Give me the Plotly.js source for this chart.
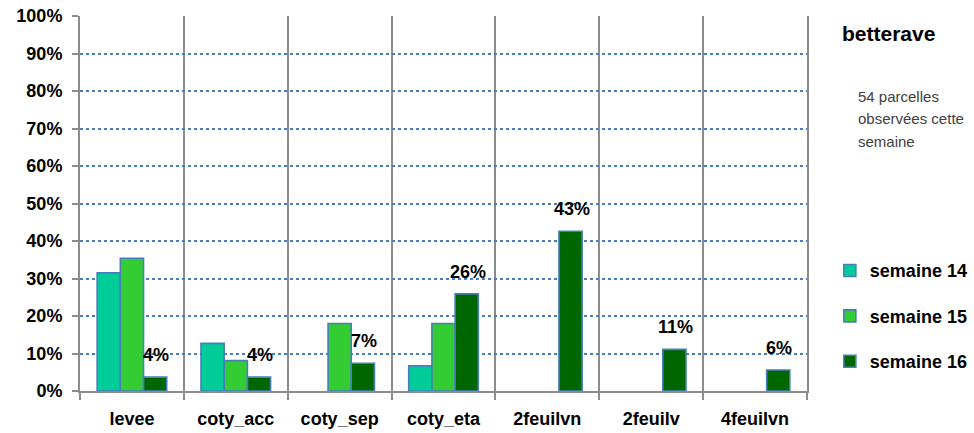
<!DOCTYPE html>
<html>
<head>
<meta charset="utf-8">
<script src="https://cdn.plot.ly/plotly-3.0.1.min.js"></script>
<style>html,body{margin:0;padding:0;background:#fff;}#chart{width:974px;height:433px;}</style>
</head>
<body>
<div id="chart"></div>
<script>
const categories = ["levee", "coty_acc", "coty_sep", "coty_eta", "2feuilvn", "2feuilv", "4feuilvn"];
const seriesNames = ["semaine 14", "semaine 15", "semaine 16"];
const semaine14 = [0.315, 0.127, null, 0.067, null, null, null];
const semaine15 = [0.354, 0.081, 0.18, 0.18, null, null, null];
const semaine16 = [0.037, 0.037, 0.074, 0.259, 0.426, 0.111, 0.056];
const chartTitle = "betterave";
const noteLines = ["54 parcelles", "observées cette", "semaine"];
const yTickVals = [0, 0.1, 0.2, 0.3, 0.4, 0.5, 0.6, 0.7, 0.8, 0.9, 1.0];

const colors = ["#00CC99", "#33CC33", "#006600"];
const FONT = "Liberation Sans, Arial, sans-serif";
const bargap = 0.33;

const values = [semaine14, semaine15, semaine16];
const traces = values.map((v, k) => ({
  type: "bar",
  x: categories,
  y: v,
  name: seriesNames[k],
  legendgroup: "g" + k,
  marker: {color: colors[k], line: {color: "#4A7EBB", width: 1.6}},
  hoverinfo: "none"
}));

const barW = (1 - bargap) / 3;
const annotations = [];
semaine16.forEach((v, i) => {
  annotations.push({
    x: i + barW, y: v, xref: "x", yref: "y",
    text: Math.round(v * 100) + "%", showarrow: false,
    xanchor: "center", yanchor: "bottom", yshift: 10, xshift: 1,
    font: {family: FONT, size: 18, color: "#000", weight: "bold"}
  });
});
annotations.push({
  x: 1.045, y: 0.953, xref: "paper", yref: "paper", xanchor: "left", yanchor: "middle",
  text: "<b>" + chartTitle + "</b>", showarrow: false,
  font: {family: FONT, size: 21, color: "#000"}
});
noteLines.forEach((t, j) => {
  annotations.push({
    x: 1.068, y: (391 - (96 + j * 22.5)) / 375, xref: "paper", yref: "paper",
    xanchor: "left", yanchor: "middle", text: t, showarrow: false,
    font: {family: FONT, size: 15, color: "#404040"}
  });
});

const layout = {
  width: 974, height: 433,
  margin: {l: 80, r: 167, t: 16, b: 42},
  paper_bgcolor: "#fff", plot_bgcolor: "#fff",
  barmode: "group", bargap: bargap, bargroupgap: 0,
  showlegend: true,
  legend: {
    xref: "container", yref: "container",
    x: 0.852, y: 0.4174, xanchor: "left", yanchor: "top",
    font: {family: FONT, size: 18, color: "#000", weight: "bold"},
    itemwidth: 30, tracegroupgap: 19, traceorder: "grouped",
    bgcolor: "rgba(0,0,0,0)"
  },
  xaxis: {
    type: "category", tickson: "boundaries",
    showgrid: true, gridcolor: "#8C8C8C", gridwidth: 2,
    showline: true, linecolor: "#8C8C8C", linewidth: 2,
    ticks: "outside", ticklen: 7, tickwidth: 2, tickcolor: "#8C8C8C",
    ticklabelstandoff: 10,
    tickfont: {family: FONT, size: 18, color: "#000", weight: "bold"},
    fixedrange: true
  },
  yaxis: {
    range: [0, 1], tickvals: yTickVals, tickformat: ".0%",
    showgrid: true, gridcolor: "#4A7EBB", gridwidth: 2, griddash: "dot",
    showline: true, linecolor: "#8C8C8C", linewidth: 2, mirror: true,
    ticks: "outside", ticklen: 6, tickwidth: 2, tickcolor: "#8C8C8C",
    ticklabelstandoff: 6, zeroline: false,
    tickfont: {family: FONT, size: 18, color: "#000", weight: "bold"},
    fixedrange: true
  },
  annotations: annotations
};

Plotly.newPlot("chart", traces, layout, {displayModeBar: false, staticPlot: true});
</script>
</body>
</html>
